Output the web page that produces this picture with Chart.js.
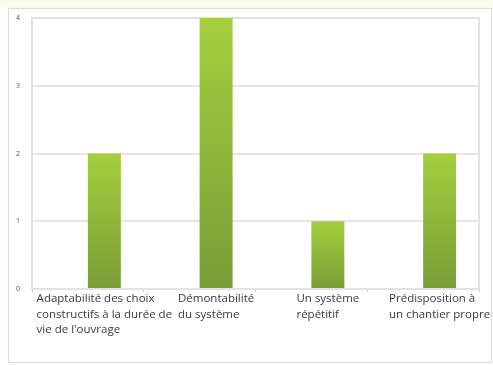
<!DOCTYPE html>
<html><head><meta charset="utf-8">
<script src="https://cdn.jsdelivr.net/npm/chart.js@4"></script>
<style>
html,body{margin:0;padding:0;background:#fff;}
#wrap{position:relative;width:493px;height:365px;background:linear-gradient(#fafaec 0,#fdfdf6 8px,#fff 9px);}
#frame{position:absolute;left:8px;top:8px;width:482px;height:353px;border:1px solid #dcdcdc;box-shadow:0 0 2px #eee;background:#fff;}
canvas{position:absolute;left:0;top:0;}
</style></head>
<body><div id="wrap"><div id="frame"></div><canvas id="c" width="493" height="365"></canvas></div>
<script>
const categories = [
  ["Adaptabilité des choix","constructifs à la durée de","vie de l'ouvrage"],
  ["Démontabilité","du système"],
  ["Un système","répétitif"],
  ["Prédisposition à","un chantier propre"]
];
const values = [2, 4, 1, 2];
const emptySeries = [null, null, null, null];
const yTicks = [0, 1, 2, 3, 4];

function barGradient(ctx){
  const chart = ctx.chart;
  const area = chart.chartArea;
  if(!area) return '#8db33f';
  const y = chart.scales.y;
  const v = ctx.raw == null ? 0 : ctx.raw;
  const top = y.getPixelForValue(v), base = y.getPixelForValue(0);
  const g = chart.ctx.createLinearGradient(0, top, 0, base);
  g.addColorStop(0, '#a4cf3e');
  g.addColorStop(1, '#7a9c38');
  return g;
}

const frameBox = {
  id:'frameBox',
  beforeDatasetsDraw(chart){
    const a = chart.chartArea, c = chart.ctx;
    c.save();
    c.strokeStyle = '#e2e2e2'; c.lineWidth = 2;
    c.strokeRect(a.left, a.top, a.right - a.left, a.bottom - a.top);
    c.restore();
  }
};

// category labels: block centred under each bar, lines left-aligned
const catLabels = {
  id:'catLabels',
  afterDraw(chart){
    const c = chart.ctx, meta = chart.getDatasetMeta(1);
    const lineH = 15.5;
    c.save();
    c.font = '11.5px "Open Sans"';
    c.fillStyle = '#3a3a3a';
    c.textAlign = 'left';
    c.textBaseline = 'middle';
    categories.forEach((lines, i) => {
      const bar = meta.data[i];
      const w = Math.max(...lines.map(l => c.measureText(l).width));
      const left = bar.x - w / 2;
      const y0 = chart.chartArea.bottom + 10;
      lines.forEach((l, j) => c.fillText(l, left, y0 + j * lineH));
    });
    c.restore();
  }
};

new Chart(document.getElementById('c'), {
  type:'bar',
  data:{
    labels: categories,
    datasets:[
      {data: emptySeries, backgroundColor:'#fff'},
      {data: values, backgroundColor: barGradient, borderWidth:0}
    ]
  },
  options:{
    responsive:false,
    animation:false,
    layout:{padding:{left:10, top:18, right:14, bottom:0}},
    plugins:{legend:{display:false}, tooltip:{enabled:false}},
    datasets:{bar:{categoryPercentage:0.59, barPercentage:1}},
    scales:{
      x:{
        grid:{display:true, drawOnChartArea:false, color:'#c8c8c8', tickLength:3, offset:true},
        border:{color:'#bdbdbd', width:1},
        ticks:{display:false},
        afterFit(s){ s.height = 76; }
      },
      y:{
        min:0, max:4,
        afterBuildTicks(s){ s.ticks = yTicks.map(v=>({value:v})); },
        grid:{color:'#e6e6e6', lineWidth:2, drawTicks:false},
        border:{display:false},
        ticks:{color:'#555', font:{family:'Open Sans', size:7}, padding:12},
        afterFit(s){ s.width = 22; }
      }
    }
  },
  plugins:[frameBox, catLabels]
});
</script></body></html>
